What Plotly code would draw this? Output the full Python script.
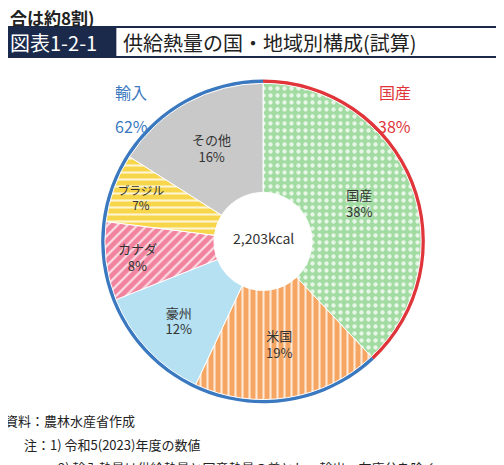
import plotly.graph_objects as go

# データ
labels = ["国産", "米国", "豪州", "カナダ", "ブラジル", "その他"]
shares = [38, 19, 12, 8, 7, 16]
groups = ["国産", "輸入"]
group_shares = [38, 62]
total_text = "2,203kcal"

FONT = "Noto Sans CJK JP"
NAVY = "#1b2a4a"
BLUE = "#3a78c0"
RED = "#e0353a"
colors = ["#a3dca3", "#f6a662", "#b5e1f2", "#f2839f", "#f8d64c", "#c9c9c9"]

fig = go.Figure()

# 外側のリング（国産／輸入）
fig.add_trace(go.Pie(
    labels=groups, values=group_shares, sort=False, direction="clockwise", rotation=0,
    hole=0.965, domain=dict(x=[0.184, 0.828], y=[0.150, 0.846]),
    marker=dict(colors=[RED, BLUE], line=dict(width=0)),
    textinfo="none", hoverinfo="skip", showlegend=False,
))

fig.add_trace(go.Pie(
    labels=labels, values=shares, sort=False, direction="clockwise", rotation=0,
    hole=0.31, domain=dict(x=[0.192, 0.820], y=[0.158, 0.838]),
    marker=dict(
        colors=colors,
        line=dict(color="white", width=1),
        pattern=dict(shape=[".", "|", "", "/", "-", ""], fillmode="replace",
                     bgcolor=colors, fgcolor="white", fgopacity=0.75, size=7, solidity=0.3),
    ),
    texttemplate="%{label}<br>%{value}%", textposition="inside",
    insidetextorientation="horizontal",
    textfont=dict(family=FONT, size=13, color="#333333"),
    showlegend=False,
))

fig.update_layout(
    width=504, height=465, margin=dict(l=0, r=0, t=0, b=0),
    paper_bgcolor="white", font=dict(family=FONT),
    shapes=[
        dict(type="rect", xref="paper", yref="paper", x0=0, x1=0.213,
             y0=1 - 50 / 465, y1=1 - 18 / 465, fillcolor=NAVY, line=dict(width=0)),
        dict(type="rect", xref="paper", yref="paper", x0=0.213, x1=0.984,
             y0=1 - 49 / 465, y1=1 - 19 / 465, fillcolor="white", line=dict(color=NAVY, width=2)),
    ],
    annotations=[
        dict(text="<b>合は約8割)</b>", x=0, y=1.01, xref="paper", yref="paper",
             xanchor="left", yanchor="top", showarrow=False, font=dict(size=17, color="#222")),
        dict(text="図表1-2-1", x=0.0, y=1 - 34 / 465, xref="paper", yref="paper",
             xanchor="left", yanchor="middle", showarrow=False, font=dict(size=20, color="white")),
        dict(text="供給熱量の国・地域別構成(試算)", x=0.225, y=1 - 34 / 465, xref="paper", yref="paper",
             xanchor="left", yanchor="middle", showarrow=False, font=dict(size=20, color="#222")),
        dict(text=total_text, x=0.506, y=1 - 230 / 465, xref="paper", yref="paper",
             showarrow=False, font=dict(size=14, color="#333")),
        dict(text="輸入", x=105 / 504, y=1 - 70 / 465, xref="paper", yref="paper",
             showarrow=False, font=dict(size=16, color=BLUE)),
        dict(text="62%", x=105 / 504, y=1 - 104 / 465, xref="paper", yref="paper",
             showarrow=False, font=dict(size=16, color=BLUE)),
        dict(text="国産", x=405 / 504, y=1 - 70 / 465, xref="paper", yref="paper",
             showarrow=False, font=dict(size=16, color=RED)),
        dict(text="38%", x=405 / 504, y=1 - 104 / 465, xref="paper", yref="paper",
             showarrow=False, font=dict(size=16, color=RED)),
        dict(text="資料：農林水産省作成", x=-0.01, y=1 - 412 / 465, xref="paper", yref="paper",
             xanchor="left", yanchor="middle", showarrow=False, font=dict(size=13, color="#222")),
        dict(text="注：1) 令和5(2023)年度の数値", x=0.028, y=1 - 436 / 465, xref="paper", yref="paper",
             xanchor="left", yanchor="middle", showarrow=False, font=dict(size=13, color="#222")),
        dict(text="2) 輸入熱量は供給熱量と国産熱量の差とし、輸出・在庫分を除く", x=0.095, y=1 - 459 / 465,
             xref="paper", yref="paper", xanchor="left", yanchor="middle", showarrow=False,
             font=dict(size=13, color="#222")),
    ],
)

fig.write_html("out.html")
